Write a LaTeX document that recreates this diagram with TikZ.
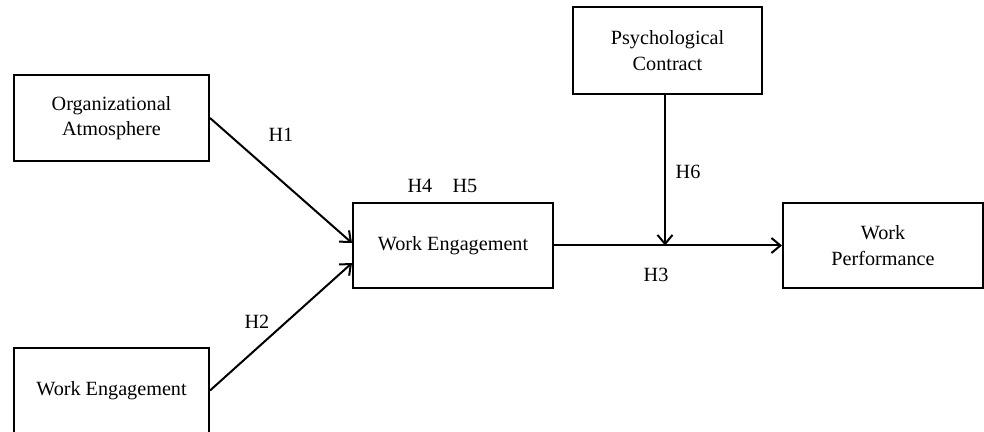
\documentclass[tikz,border=0pt]{standalone}
\usepackage{fontspec}
\setmainfont{Liberation Serif}
\usetikzlibrary{arrows.meta, positioning}

\begin{document}
\begin{tikzpicture}[x=0.5pt, y=-0.5pt,
  every node/.style={font=\fontsize{10.1}{12.6}\selectfont},
  var/.style={draw, line width=1pt, align=center, inner sep=0pt},
  hyp/.style={inner sep=0pt},
  >={Straight Barb[length=4.5pt,width=7.5pt]}]
\useasboundingbox (0,0) rectangle (984,432);
\node[var, minimum width=97.5pt, minimum height=43pt] (orgatm) at (111.5,118) {Organizational\\Atmosphere};
\node[var, minimum width=97.5pt, minimum height=42.5pt] (engleft) at (111.5,390.5) {Work Engagement};
\node[var, minimum width=100pt, minimum height=42.5pt] (engage) at (453,245.5) {Work Engagement};
\node[var, minimum width=94.5pt, minimum height=43.5pt] (contract) at (667.5,50.5) {Psychological\\Contract};
\node[var, minimum width=100pt, minimum height=42.5pt] (perform) at (883,245.5) {Work\\Performance};
\coordinate (meet) at (665,245.5);
\draw[->, line width=1pt] (orgatm.east) -- ([yshift=1.25pt]engage.west);
\draw[->, line width=1pt] (engleft.east) -- ([yshift=-8.75pt]engage.west);
\draw[->, line width=1pt] (engage.east) -- (perform.west);
\draw[->, line width=1pt] (contract.south -| meet) -- (meet);
\node[hyp] (h1) at (281,135) {H1};
\node[hyp] (h2) at (257,322) {H2};
\node[hyp] (h4) at (420,186) {H4};
\node[hyp] (h5) at (465,186) {H5};
\node[hyp] (h6) at (688,172) {H6};
\node[hyp] (h3) at (656,275) {H3};
\end{tikzpicture}
\end{document}
